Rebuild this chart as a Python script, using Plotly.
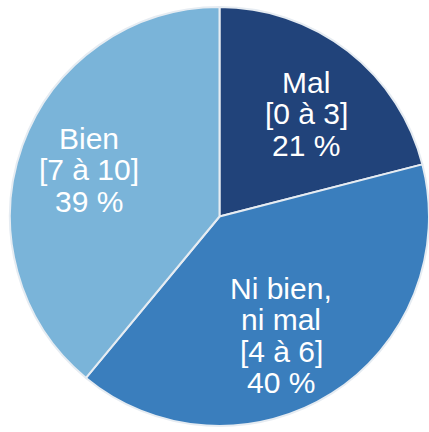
import plotly.graph_objects as go

categories = ["Mal", "Ni bien, ni mal", "Bien"]
label_lines = [["Mal", "[0 à 3]"], ["Ni bien,", "ni mal", "[4 à 6]"], ["Bien", "[7 à 10]"]]
values = [21, 40, 39]
colors = ["#21437A", "#3A7EBD", "#7AB4D9"]

# label block anchor (page pixels: x center, y of first line center)
label_pos = [(306, 82), (281, 288), (89, 138)]
line_step = 31.5
W, H = 429, 432
CX, CY, R = 219.5, 216.5, 209.5

fig = go.Figure(go.Pie(
    labels=categories,
    values=values,
    sort=False,
    direction="clockwise",
    rotation=0,
    marker=dict(colors=colors, line=dict(color="#E6ECF2", width=2)),
    textinfo="none",
    hoverinfo="skip",
    showlegend=False,
    domain=dict(x=[(CX - R) / W, (CX + R) / W],
                y=[1 - (CY + R) / H, 1 - (CY - R) / H]),
))

annotations = []
for lines, val, (cx, cy) in zip(label_lines, values, label_pos):
    all_lines = lines + [f"{val} %"]
    for i, t in enumerate(all_lines):
        py = cy + i * line_step
        annotations.append(dict(
            x=cx / W, y=1 - py / H,
            xref="paper", yref="paper",
            text=t, showarrow=False,
            xanchor="center", yanchor="middle",
            font=dict(family="Liberation Sans, Arial", size=30, color="white"),
        ))

fig.update_layout(
    width=W, height=H,
    margin=dict(l=0, r=0, t=0, b=0),
    paper_bgcolor="white",
    annotations=annotations,
)
fig.write_html("out.html", config={"displayModeBar": False},
               post_script="document.body.style.margin='0';")
